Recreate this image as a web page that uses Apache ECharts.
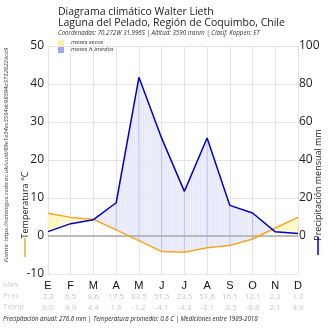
<!DOCTYPE html>
<html><head><meta charset="utf-8">
<script src="https://cdn.jsdelivr.net/npm/echarts@6/dist/echarts.min.js"></script>
<style>html,body{margin:0;padding:0;background:#fff}#c{width:330px;height:330px}</style>
</head><body><div id="c"></div>
<script>
var months = ['E','F','M','A','M','J','J','A','S','O','N','D'];
var precip = [2.3, 6.5, 8.6, 17.5, 83.5, 51.5, 23.5, 51.6, 16.1, 12.1, 2.2, 1.3];
var temp = [6.0, 4.9, 4.4, 1.6, -1.2, -4.1, -4.3, -3.1, -2.5, -0.8, 2.1, 4.9];
var tempTicks = {min: -10, max: 50, interval: 10};
var precTicks = {min: -20, max: 100, interval: 20};
var FONT = '"Open Sans", "Noto Sans", sans-serif';
var chart = echarts.init(document.getElementById('c'), null, {renderer: 'canvas'});

var segData = [], labelData = [];
for (var i = 0; i < months.length; i++) {
  labelData.push([i, tempTicks.min]);
  if (i < months.length - 1) segData.push([i, temp[i]]);
}

function renderSeg(params, api) {
  var i = api.value(0);
  var a0 = api.coord([i, temp[i]]), b0 = api.coord([i, precip[i] / 2]);
  var a1 = api.coord([i + 1, temp[i + 1]]), b1 = api.coord([i + 1, precip[i + 1] / 2]);
  var wetFill = 'rgba(236,238,252,0.8)', dryFill = 'rgba(255,250,205,0.85)';
  var wetLine = 'rgba(165,170,235,0.3)', dryLine = 'rgba(250,232,130,0.5)';
  var children = [];
  var x0 = a0[0], x1 = a1[0];
  var d0 = precip[i] / 2 - temp[i], d1 = precip[i + 1] / 2 - temp[i + 1];
  function poly(pts, wet) {
    children.push({type: 'polygon', shape: {points: pts}, style: {fill: wet ? wetFill : dryFill}});
  }
  if ((d0 >= 0 && d1 >= 0) || (d0 <= 0 && d1 <= 0)) {
    poly([a0, b0, b1, a1], (d0 + d1) > 0);
  } else {
    var f = d0 / (d0 - d1);
    var c = [a0[0] + f * (a1[0] - a0[0]), a0[1] + f * (a1[1] - a0[1])];
    poly([a0, b0, c], d0 > 0);
    poly([c, b1, a1], d1 > 0);
  }
  for (var x = Math.ceil(x0); x < x1; x += 2.2) {
    var t = (x - x0) / (x1 - x0);
    var yT = a0[1] + t * (a1[1] - a0[1]);
    var yP = b0[1] + t * (b1[1] - b0[1]);
    var wet = yP < yT;
    children.push({type: 'line', shape: {x1: x, y1: yT, x2: x, y2: yP},
      style: {stroke: wet ? wetLine : dryLine, lineWidth: 0.6}});
  }
  if (d0 > 0) {
    children.push({type: 'line', shape: {x1: a0[0], y1: a0[1], x2: b0[0], y2: b0[1]},
      style: {stroke: 'rgba(140,145,225,0.4)', lineWidth: 1}});
  }
  return {type: 'group', children: children};
}

function renderLabels(params, api) {
  var i = api.value(0);
  var p = api.coord([i, tempTicks.min]);
  return {type: 'group', children: [
    {type: 'text', x: p[0], y: p[1] + 12,
      style: {text: months[i], fontSize: 11, fill: '#111', align: 'center', verticalAlign: 'middle'}},
    {type: 'text', x: p[0], y: p[1] + 23,
      style: {text: precip[i].toFixed(1), fontSize: 8, fill: '#c8c8c8', fontFamily: FONT, align: 'center', verticalAlign: 'middle'}},
    {type: 'text', x: p[0], y: p[1] + 34,
      style: {text: temp[i].toFixed(1), fontSize: 8, fill: '#c8c8c8', fontFamily: FONT, align: 'center', verticalAlign: 'middle'}}
  ]};
}

chart.setOption({
  animation: false,
  grid: {left: 48, right: 32, top: 46, bottom: 56},
  xAxis: {type: 'category', data: months, boundaryGap: false,
    axisLine: {show: false, onZero: false}, axisTick: {show: false},
    splitLine: {show: true, lineStyle: {color: '#e4e4e4'}}, axisLabel: {show: false}},
  yAxis: [{type: 'value', min: tempTicks.min, max: tempTicks.max, interval: tempTicks.interval,
      splitLine: {show: true, lineStyle: {color: '#e4e4e4'}},
      axisLabel: {fontSize: 12, color: '#222', margin: 4, fontFamily: FONT}},
    {type: 'value', min: precTicks.min, max: precTicks.max, interval: precTicks.interval,
      splitLine: {show: false},
      axisLabel: {fontSize: 12, color: '#222', margin: 1, fontFamily: FONT,
        formatter: function (v) { return v < 0 ? '' : String(v); }}}],
  series: [
    {type: 'custom', data: segData, encode: {x: 0, y: 1}, renderItem: renderSeg, z: 1},
    {type: 'custom', data: labelData, clip: false, encode: {x: 0, y: 1}, renderItem: renderLabels, z: 10},
    {type: 'line', data: temp, symbol: 'none', z: 5,
      lineStyle: {color: '#f5a623', width: 1.5}, itemStyle: {color: '#f5a623'},
      markLine: {symbol: 'none', label: {show: false}, data: [{yAxis: 0}],
        lineStyle: {color: '#aaaaaa', width: 1.5, type: 'solid'}}},
    {type: 'line', yAxisIndex: 1, data: precip, symbol: 'none', z: 6,
      lineStyle: {color: '#0000cc', width: 1.5}, itemStyle: {color: '#0000cc'}}
  ],
  graphic: [
    {type: 'text', left: 58, top: 7, style: {text: 'Diagrama climático Walter Lieth', fontSize: 10.5, fill: '#222', fontFamily: FONT}},
    {type: 'text', left: 58, top: 18, style: {text: 'Laguna del Pelado, Región de Coquimbo, Chile', fontSize: 10.5, fill: '#222', fontFamily: FONT}},
    {type: 'text', left: 58, top: 30, style: {text: 'Coordenadas: 70.272W 31.996S | Altitud: 3590 msnm | Clasif. Koppen: ET', fontSize: 6.2, fontStyle: 'italic', fill: '#333', fontFamily: FONT}},
    {type: 'rect', shape: {x: 58, y: 40, width: 6, height: 6}, style: {fill: '#f7f4a6'}},
    {type: 'rect', shape: {x: 58, y: 47, width: 6, height: 6}, style: {fill: '#a4a4f2'}},
    {type: 'text', left: 71, top: 39.5, style: {text: 'meses secos', fontSize: 6, fontStyle: 'italic', fill: '#333', fontFamily: FONT}},
    {type: 'text', left: 71, top: 46, style: {text: 'meses húmedos', fontSize: 6, fontStyle: 'italic', fill: '#333', fontFamily: FONT}},
    {type: 'text', x: 25, y: 205, rotation: Math.PI / 2, style: {text: 'Temperatura °C', fontSize: 9, fill: '#222', align: 'center', verticalAlign: 'middle', fontFamily: FONT}},
    {type: 'line', shape: {x1: 25, y1: 238, x2: 25, y2: 257}, style: {stroke: '#f5a623', lineWidth: 1.5}},
    {type: 'text', x: 318, y: 185, rotation: Math.PI / 2, style: {text: 'Precipitación mensual mm', fontSize: 9, fill: '#222', align: 'center', verticalAlign: 'middle', fontFamily: FONT}},
    {type: 'line', shape: {x1: 318, y1: 237, x2: 318, y2: 255}, style: {stroke: '#0000cc', lineWidth: 1.5}},
    {type: 'text', x: 6, y: 155, rotation: Math.PI / 2, style: {text: 'Fuente: https://catalogue.ceda.ac.uk/uuid/89e1e34ec3554dc98594a5732622bce9', fontSize: 6, fontStyle: 'italic', fill: '#333', align: 'center', verticalAlign: 'middle', fontFamily: FONT}},
    {type: 'text', left: 3, top: 281, style: {text: 'Mes', fontSize: 8, fill: '#d0d0d0', fontFamily: FONT}},
    {type: 'text', left: 3, top: 292, style: {text: 'Prec', fontSize: 8, fill: '#d0d0d0', fontFamily: FONT}},
    {type: 'text', left: 3, top: 303, style: {text: 'Temp', fontSize: 8, fill: '#d0d0d0', fontFamily: FONT}},
    {type: 'text', left: 3, top: 316, style: {text: 'Precipitación anual: 276.6 mm | Temperatura promedio: 0.6 C | Mediciones entre 1989-2018', fontSize: 6.2, fontStyle: 'italic', fill: '#222', fontFamily: FONT}}
  ]
});
</script>
</body></html>
